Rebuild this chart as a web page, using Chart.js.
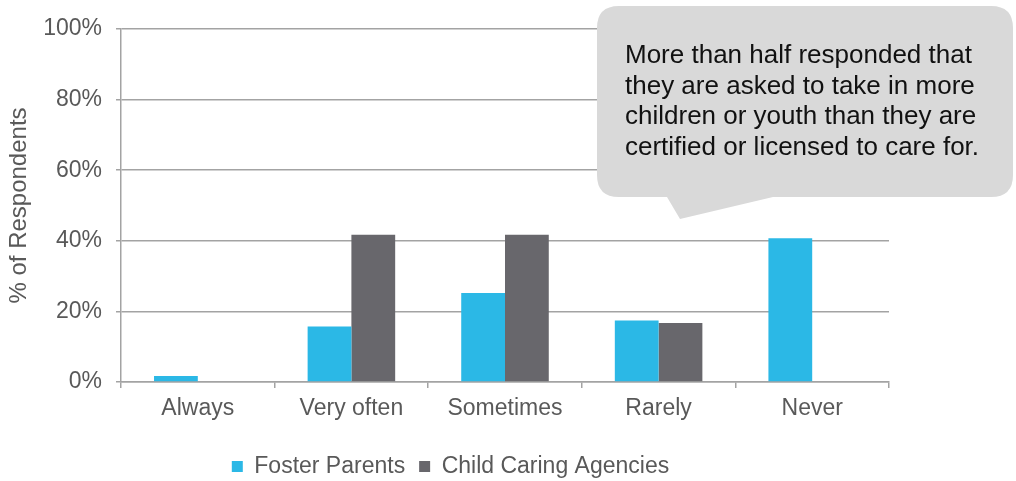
<!DOCTYPE html>
<html>
<head>
<meta charset="utf-8">
<script src="https://cdn.jsdelivr.net/npm/chart.js@4/dist/chart.umd.min.js"></script>
<style>
  html, body { margin: 0; padding: 0; background: #fff; }
  #wrap { width: 1016px; height: 481px; position: relative; }
</style>
</head>
<body>
<div id="wrap"><canvas id="c"></canvas></div>
<script>
// chart values
const categories = ["Always", "Very often", "Sometimes", "Rarely", "Never"];
const fosterParents = [1.7, 15.7, 25.2, 17.4, 40.7];
const childAgencies = [0, 41.7, 41.7, 16.7, 0];
const seriesNames = ["Foster Parents", "Child Caring Agencies"];
const calloutLines = [
  "More than half responded that",
  "they are asked to take in more",
  "children or youth than they are",
  "certified or licensed to care for."
];

const FONT = "'Liberation Sans', Arial, Helvetica, sans-serif";
const GRID = "#a3a3a3";
const TEXT = "#595959";

// speech bubble drawn on top of the chart
const calloutPlugin = {
  id: "callout",
  afterDraw(chart) {
    const ctx = chart.ctx;
    const x = 597, y = 6, w = 416, h = 191, r = 22;
    ctx.save();
    ctx.fillStyle = "#d9d9d9";
    ctx.beginPath();
    ctx.moveTo(x + r, y);
    ctx.lineTo(x + w - r, y);
    ctx.quadraticCurveTo(x + w, y, x + w, y + r);
    ctx.lineTo(x + w, y + h - r);
    ctx.quadraticCurveTo(x + w, y + h, x + w - r, y + h);
    ctx.lineTo(773, y + h);
    ctx.lineTo(680, 219);
    ctx.lineTo(667, y + h);
    ctx.lineTo(x + r, y + h);
    ctx.quadraticCurveTo(x, y + h, x, y + h - r);
    ctx.lineTo(x, y + r);
    ctx.quadraticCurveTo(x, y, x + r, y);
    ctx.closePath();
    ctx.fill();

    ctx.fillStyle = "#111";
    ctx.font = "26px " + FONT;
    ctx.textBaseline = "middle";
    ctx.textAlign = "left";
    calloutLines.forEach((line, i) => {
      ctx.fillText(line, 625, 56 + i * 30.5);
    });
    ctx.restore();
  }
};

const chart = new Chart(document.getElementById("c"), {
  type: "bar",
  data: {
    labels: categories,
    datasets: [
      {
        label: seriesNames[0],
        data: fosterParents,
        backgroundColor: "#2bb8e6",
        categoryPercentage: 0.57,
        barPercentage: 1.0,
      },
      {
        label: seriesNames[1],
        data: childAgencies,
        backgroundColor: "#68676c",
        categoryPercentage: 0.57,
        barPercentage: 1.0,
      },
    ],
  },
  options: {
    responsive: true,
    maintainAspectRatio: false,
    animation: false,
    layout: { padding: { top: 29, right: 127, left: 12, bottom: -7 } },
    plugins: {
      legend: {
        position: "bottom",
        labels: {
          font: { family: FONT, size: 23 },
          color: TEXT,
          boxWidth: 11,
          boxHeight: 11,
          padding: 14,
        },
      },
      tooltip: { enabled: false },
    },
    scales: {
      x: {
        afterFit: (s) => { s.height = 59; },
        grid: {
          display: true,
          drawOnChartArea: false,
          color: GRID,
          lineWidth: 1.5,
          tickLength: 6,
        },
        border: { color: GRID, width: 1.5 },
        ticks: { font: { family: FONT, size: 23 }, color: TEXT, padding: 7 },
      },
      y: {
        min: 0,
        max: 100,
        afterFit: (s) => { s.width = 109; },
        grid: { color: GRID, lineWidth: 1.5, tickLength: 5 },
        border: { color: GRID, width: 1.5 },
        ticks: {
          stepSize: 20,
          font: { family: FONT, size: 23 },
          color: TEXT,
          padding: 14,
          callback: (v) => v + "%",
        },
        title: {
          display: true,
          text: "% of Respondents",
          font: { family: FONT, size: 24 },
          color: TEXT,
          padding: { top: -7, bottom: 0 },
        },
      },
    },
  },
  plugins: [calloutPlugin],
});
</script>
</body>
</html>
